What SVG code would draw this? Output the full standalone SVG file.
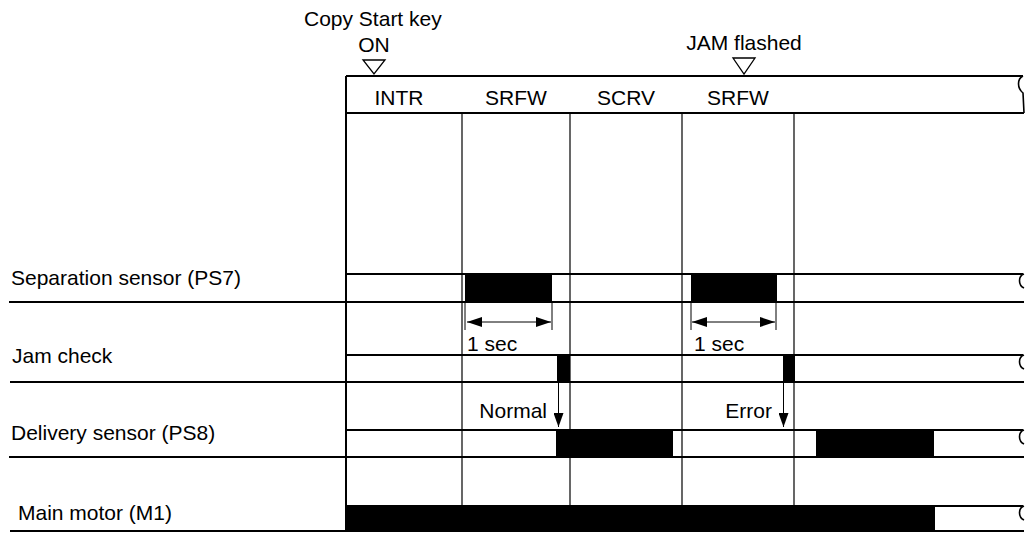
<svg xmlns="http://www.w3.org/2000/svg" width="1026" height="534" viewBox="0 0 1026 534">
  <style>
    text { font-family: "Liberation Sans", Arial, sans-serif; font-size: 21px; fill: #000; }
    .mid { text-anchor: middle; }
    .end { text-anchor: end; }
    .row { stroke: #000; stroke-width: 2; fill: none; }
    .col { stroke: #000; stroke-width: 1.2; fill: none; }
    .thin { stroke: #000; stroke-width: 1; fill: none; }
    .bar { fill: #000; }
    .tri { fill: #fff; stroke: #000; stroke-width: 1.3; }
    .brk { stroke: #000; stroke-width: 1.6; fill: none; }
  </style>
  <defs>
    <marker id="ah" viewBox="0 0 15 10" refX="15" refY="5" markerWidth="15" markerHeight="10" markerUnits="userSpaceOnUse" orient="auto-start-reverse">
      <path d="M0,0 L15,5 L0,10 Z" fill="#000"/>
    </marker>
    <marker id="ahd" viewBox="0 0 14 10" refX="14" refY="5" markerWidth="14" markerHeight="10" markerUnits="userSpaceOnUse" orient="auto">
      <path d="M0,0 L14,5 L0,10 Z" fill="#000"/>
    </marker>
  </defs>

  <g id="events">
    <text x="304" y="26">Copy Start key</text>
    <text x="374" y="52" class="mid">ON</text>
    <polygon class="tri" points="363,60 385,60 374,74"/>
    <text x="744" y="50" class="mid">JAM flashed</text>
    <polygon class="tri" points="733,58 755,58 744,74"/>
  </g>

  <g id="header">
    <line class="row" x1="346" y1="76" x2="1023" y2="76"/>
    <line class="row" x1="346" y1="113" x2="1024" y2="113"/>
    <path class="brk" d="M1023,76 C1017,79 1017,88 1023,93 L1024,113"/>
    <text x="399" y="105" class="mid">INTR</text>
    <text x="516" y="105" class="mid">SRFW</text>
    <text x="626" y="105" class="mid">SCRV</text>
    <text x="738" y="105" class="mid">SRFW</text>
  </g>

  <g id="grid">
    <line class="row" x1="346" y1="76" x2="346" y2="531"/>
    <line class="col" x1="462" y1="113" x2="462" y2="506"/>
    <line class="col" x1="570" y1="113" x2="570" y2="506"/>
    <line class="col" x1="682" y1="113" x2="682" y2="506"/>
    <line class="col" x1="794" y1="113" x2="794" y2="506"/>
  </g>

  <g id="separation-sensor">
    <text x="11" y="285">Separation sensor (PS7)</text>
    <line class="row" x1="346" y1="274" x2="1023" y2="274"/>
    <line class="row" x1="9" y1="302" x2="1024" y2="302"/>
    <path class="brk" d="M1024,274 C1018,276 1018,285 1024,288"/>
    <rect class="bar" x="465" y="274" width="87" height="28"/>
    <rect class="bar" x="691" y="274" width="86" height="28"/>
    <line class="thin" x1="465" y1="302" x2="465" y2="330"/>
    <line class="thin" x1="552" y1="302" x2="552" y2="330"/>
    <line class="thin" x1="691" y1="302" x2="691" y2="330"/>
    <line class="thin" x1="776" y1="302" x2="776" y2="330"/>
    <text x="467" y="351">1 sec</text>
    <text x="694" y="351">1 sec</text>
  </g>

  <g id="jam-check">
    <text x="12" y="363">Jam check</text>
    <line class="row" x1="346" y1="355" x2="1023" y2="355"/>
    <line class="row" x1="10" y1="382" x2="1024" y2="382"/>
    <path class="brk" d="M1024,355 C1018,357 1018,366 1024,369"/>
    <rect class="bar" x="557" y="355" width="13" height="27"/>
    <rect class="bar" x="783" y="355" width="12" height="27"/>
  </g>

  <g id="delivery-sensor">
    <text x="11" y="440">Delivery sensor (PS8)</text>
    <line class="row" x1="346" y1="430" x2="1023" y2="430"/>
    <line class="row" x1="9" y1="457" x2="1024" y2="457"/>
    <path class="brk" d="M1024,430 C1018,432 1018,441 1024,444"/>
    <rect class="bar" x="556" y="430" width="117" height="27"/>
    <rect class="bar" x="816" y="430" width="118" height="27"/>
    <text x="547" y="418" class="end">Normal</text>
    <text x="772" y="418" class="end">Error</text>
  </g>

  <g id="main-motor">
    <text x="18" y="520">Main motor (M1)</text>
    <line class="row" x1="346" y1="506" x2="1023" y2="506"/>
    <line class="row" x1="10" y1="531" x2="1024" y2="531"/>
    <path class="brk" d="M1024,506 C1018,508 1018,517 1024,520"/>
    <rect class="bar" x="346" y="506" width="589" height="25"/>
  </g>

  <g id="connectors">
    <line class="thin" x1="467" y1="322" x2="551" y2="322" marker-start="url(#ah)" marker-end="url(#ah)"/>
    <line class="thin" x1="692" y1="322" x2="775" y2="322" marker-start="url(#ah)" marker-end="url(#ah)"/>
    <line class="thin" x1="558.5" y1="382" x2="558.5" y2="427" marker-end="url(#ahd)"/>
    <line class="thin" x1="783.5" y1="382" x2="783.5" y2="427" marker-end="url(#ahd)"/>
  </g>
</svg>
